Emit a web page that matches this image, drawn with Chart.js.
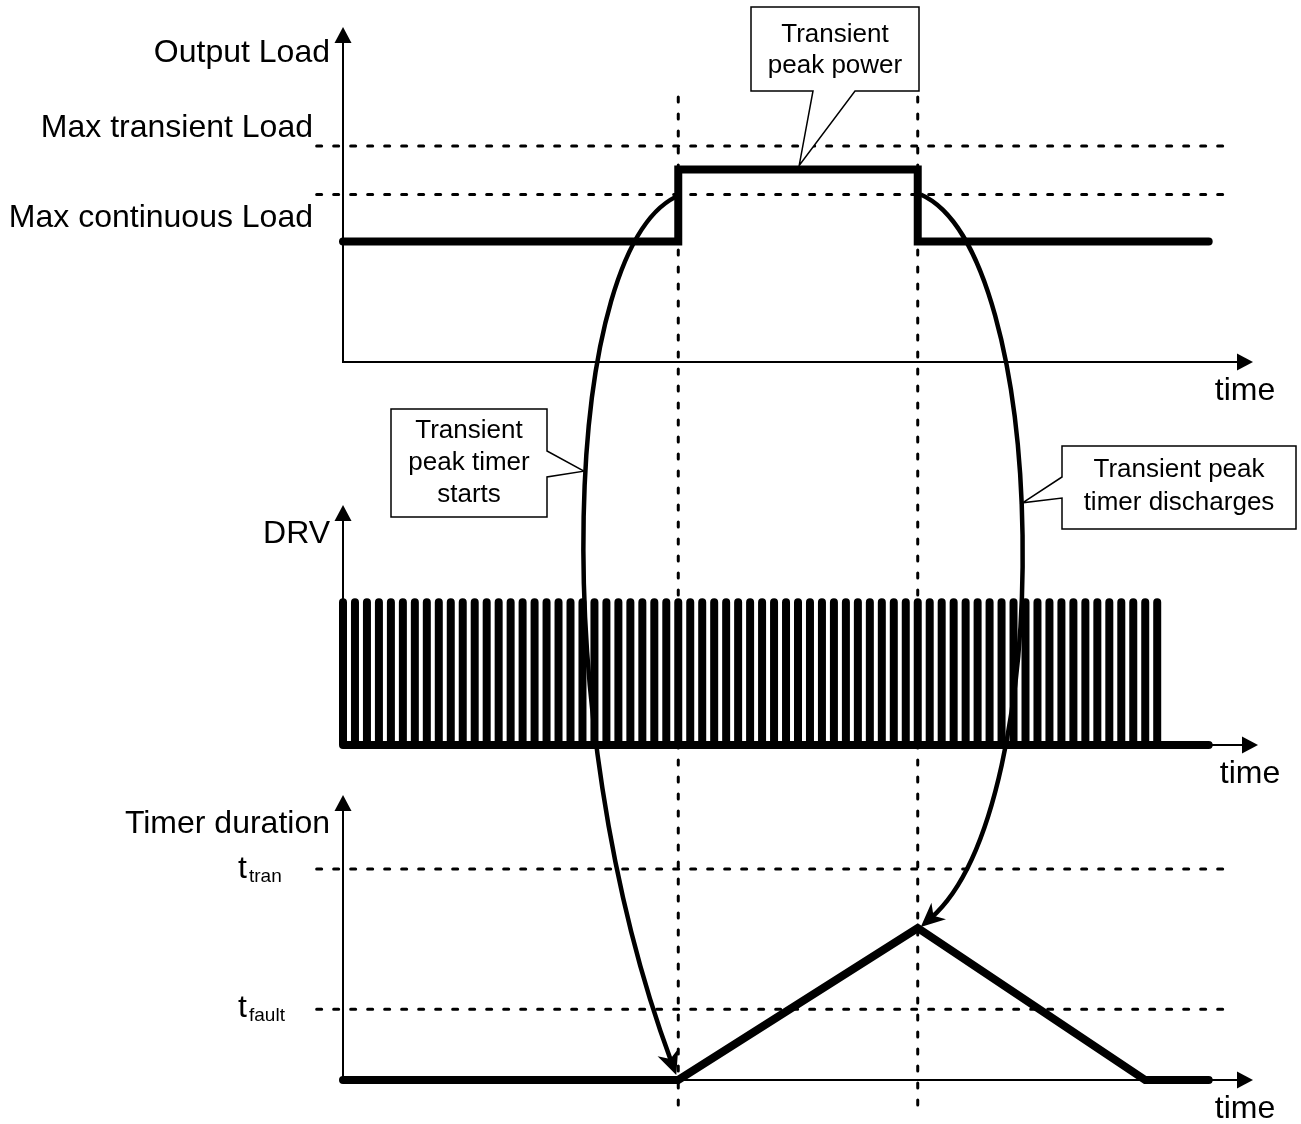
<!DOCTYPE html>
<html>
<head>
<meta charset="utf-8">
<title>Transient peak power timer</title>
<script src="https://cdn.jsdelivr.net/npm/chart.js@4.4.1/dist/chart.umd.min.js"></script>
<style>
  html, body { margin: 0; padding: 0; background: #fff; }
  #wrap { position: relative; width: 1301px; height: 1124px; }
  #wrap canvas { position: absolute; left: 0; top: 0; }
</style>
</head>
<body>
<div id="wrap">
  <canvas id="loadChart" width="1301" height="1124"></canvas>
  <canvas id="drvChart" width="1301" height="1124"></canvas>
  <canvas id="timerChart" width="1301" height="1124"></canvas>
</div>
<script>
// time runs in DRV switching periods
const timeMax = 76
const transitionTimes = [28, 48]

// output load, % of max continuous load
const loadTimes = [0, 28, 28, 48, 48, 72.3]
const loadValues = [72, 72, 115, 115, 72, 72]
const maxContinuousLoad = 100
const maxTransientLoad = 129
const loadMax = 200

// DRV gate pulses (rising edge times)
const drvPulseTimes = [0, 1, 2, 3, 4, 5, 6, 7, 8, 9, 10, 11, 12, 13, 14, 15, 16, 17, 18, 19,
  20, 21, 22, 23, 24, 25, 26, 27, 28, 29, 30, 31, 32, 33, 34, 35, 36, 37, 38, 39,
  40, 41, 42, 43, 44, 45, 46, 47, 48, 49, 50, 51, 52, 53, 54, 55, 56, 57, 58, 59,
  60, 61, 62, 63, 64, 65, 66, 67, 68]
const drvHigh = 1
const drvEnd = 72.3
const drvMax = 1.68

// transient peak timer, % of t_tran
const timerTimes = [0, 28, 48, 67, 72.3]
const timerValues = [0, 0, 72, 0, 0]
const tTran = 100
const tFault = 33.5
const timerMax = 135

// reference lines reach a little left of the axis
const levelLineTimes = [-2.2, 73.5]

const ink = '#000'
const fontFamily = '"Liberation Sans", Arial, sans-serif'
const labelFont = '32px ' + fontFamily
const subFont = '19px ' + fontFamily
const boxFont = '26px ' + fontFamily
const W = 1301, H = 1124
const plotLeft = 343, plotRight = 1253

function toPoints(xs, ys) {
    return xs.map((x, i) => ({x: x, y: ys[i]}))
}

function levelDataset(value) {
    return {
        data: levelLineTimes.map(t => ({x: t, y: value})),
        borderColor: ink, borderWidth: 3, borderDash: [5, 12],
        borderCapStyle: 'round', clip: false
    }
}

function arrowHead(ctx, x, y, dx, dy, len, hw) {
    ctx.beginPath()
    ctx.moveTo(x, y)
    ctx.lineTo(x - dx * len - dy * hw, y - dy * len + dx * hw)
    ctx.lineTo(x - dx * len + dy * hw, y - dy * len - dx * hw)
    ctx.closePath()
    ctx.fill()
}

function stealthHead(ctx, x, y, dx, dy, len, hw, notch) {
    ctx.beginPath()
    ctx.moveTo(x, y)
    ctx.lineTo(x - dx * len - dy * hw, y - dy * len + dx * hw)
    ctx.lineTo(x - dx * (len - notch), y - dy * (len - notch))
    ctx.lineTo(x - dx * len + dy * hw, y - dy * len - dx * hw)
    ctx.closePath()
    ctx.fill()
}

function diagramOptions(yMax, top, bottom) {
    return {
        responsive: false,
        animation: false,
        events: [],
        layout: {padding: {left: plotLeft, right: W - plotRight, top: top, bottom: H - bottom}},
        plugins: {legend: {display: false}, tooltip: {enabled: false}},
        elements: {point: {radius: 0}, line: {tension: 0}},
        scales: {
            x: {type: 'linear', min: 0, max: timeMax, display: false},
            y: {type: 'linear', min: 0, max: yMax, display: false}
        }
    }
}

// axes with arrow tips, titles and level labels
function axesPlugin(cfg) {
    return {
        id: 'diagramAxes',
        beforeDatasetsDraw(chart) {
            const {ctx, chartArea: a} = chart
            const y = chart.scales.y
            const xTip = a.right + cfg.xTipExtra
            ctx.save()
            ctx.fillStyle = ink
            ctx.strokeStyle = ink
            ctx.lineWidth = 2
            ctx.beginPath()
            ctx.moveTo(a.left, a.top + 10)
            ctx.lineTo(a.left, a.bottom)
            ctx.lineTo(xTip - 10, a.bottom)
            ctx.stroke()
            arrowHead(ctx, a.left, a.top, 0, -1, 16, 8.5)
            arrowHead(ctx, xTip, a.bottom, 1, 0, 16, 8.5)

            ctx.font = labelFont
            ctx.textBaseline = 'alphabetic'
            ctx.textAlign = 'right'
            ctx.fillText(cfg.title, a.left - 13, a.top + cfg.titleDy)
            ctx.textAlign = 'center'
            ctx.fillText('time', xTip - 8, a.bottom + 38)

            cfg.levels.forEach(l => {
                const py = y.getPixelForValue(l.value)
                if (l.sub) {
                    ctx.textAlign = 'left'
                    ctx.font = labelFont
                    ctx.fillText('t', 238, py + l.dy)
                    ctx.font = subFont
                    ctx.fillText(l.sub, 249, py + l.dy + 4)
                } else {
                    ctx.textAlign = 'right'
                    ctx.font = labelFont
                    ctx.fillText(l.text, a.left - 30, py + l.dy)
                }
            })
            ctx.restore()
        }
    }
}

const loadChart = new Chart(document.getElementById('loadChart'), {
    type: 'line',
    data: {datasets: [
        {data: toPoints(loadTimes, loadValues), borderColor: ink, borderWidth: 8,
         borderCapStyle: 'round', borderJoinStyle: 'miter', clip: false},
        levelDataset(maxTransientLoad),
        levelDataset(maxContinuousLoad)
    ]},
    options: diagramOptions(loadMax, 27, 362),
    plugins: [axesPlugin({
        title: 'Output Load', titleDy: 35, xTipExtra: 0,
        levels: [
            {text: 'Max transient Load', value: maxTransientLoad, dy: -9},
            {text: 'Max continuous Load', value: maxContinuousLoad, dy: 32}
        ]
    })]
})

const drvPoints = []
drvPulseTimes.forEach(t => {
    drvPoints.push({x: t, y: 0}, {x: t, y: drvHigh}, {x: t, y: 0})
})
drvPoints.push({x: drvEnd, y: 0})

const drvChart = new Chart(document.getElementById('drvChart'), {
    type: 'line',
    data: {datasets: [
        {data: drvPoints, borderColor: ink, borderWidth: 8,
         borderCapStyle: 'round', borderJoinStyle: 'round', clip: false}
    ]},
    options: diagramOptions(drvMax, 505, 745),
    plugins: [axesPlugin({title: 'DRV', titleDy: 38, xTipExtra: 5, levels: []})]
})

function bez(p, t) {
    const u = 1 - t
    return {
        x: u * u * u * p[0].x + 3 * u * u * t * p[1].x + 3 * u * t * t * p[2].x + t * t * t * p[3].x,
        y: u * u * u * p[0].y + 3 * u * u * t * p[1].y + 3 * u * t * t * p[2].y + t * t * t * p[3].y
    }
}

function pointAtY(p, targetY) {
    let best = p[0], bestD = 1e9
    for (let i = 0; i <= 400; i++) {
        const q = bez(p, i / 400)
        const d = Math.abs(q.y - targetY)
        if (d < bestD) { bestD = d; best = q }
    }
    return best
}

function drawCurveArrow(ctx, p) {
    let dx = p[3].x - p[2].x, dy = p[3].y - p[2].y
    const n = Math.hypot(dx, dy)
    dx /= n; dy /= n
    ctx.beginPath()
    ctx.moveTo(p[0].x, p[0].y)
    ctx.bezierCurveTo(p[1].x, p[1].y, p[2].x, p[2].y, p[3].x - dx * 14, p[3].y - dy * 14)
    ctx.lineWidth = 4.5
    ctx.stroke()
    stealthHead(ctx, p[3].x, p[3].y, dx, dy, 24, 11, 7)
}

function callout(ctx, pts, lines, cx, baselines) {
    ctx.beginPath()
    ctx.moveTo(pts[0].x, pts[0].y)
    pts.slice(1).forEach(q => ctx.lineTo(q.x, q.y))
    ctx.closePath()
    ctx.fillStyle = '#fff'
    ctx.fill()
    ctx.lineWidth = 1.5
    ctx.strokeStyle = ink
    ctx.stroke()
    ctx.fillStyle = ink
    ctx.font = boxFont
    ctx.textAlign = 'center'
    ctx.textBaseline = 'alphabetic'
    lines.forEach((s, i) => ctx.fillText(s, cx, baselines[i]))
}

// cross-panel markers, curved arrows and callouts
const overlayPlugin = {
    id: 'overlay',
    afterDraw(chart) {
        const ctx = chart.ctx
        const x = chart.scales.x
        const timerY = chart.scales.y
        const loadY = loadChart.scales.y
        ctx.save()
        ctx.strokeStyle = ink
        ctx.fillStyle = ink

        ctx.lineWidth = 3
        ctx.lineCap = 'round'
        ctx.setLineDash([5, 12])
        transitionTimes.forEach(t => {
            const px = x.getPixelForValue(t)
            ctx.beginPath()
            ctx.moveTo(px, 97)
            ctx.lineTo(px, 1107)
            ctx.stroke()
        })
        ctx.setLineDash([])
        ctx.lineCap = 'butt'

        const upX = x.getPixelForValue(transitionTimes[0])
        const downX = x.getPixelForValue(transitionTimes[1])
        const contY = loadY.getPixelForValue(maxContinuousLoad)
        const peakY = timerY.getPixelForValue(Math.max(...timerValues))

        const l0 = {x: upX + 3, y: contY}
        const l3 = {x: upX - 2, y: timerY.getPixelForValue(0) - 5}
        const leftCurve = [l0, {x: l0.x - 120, y: l0.y + 45}, {x: l3.x - 132, y: l3.y - 355}, l3]
        const r0 = {x: downX + 3, y: contY}
        const r3 = {x: downX + 3, y: peakY - 1}
        const rightCurve = [r0, {x: r0.x + 130, y: r0.y + 57}, {x: r3.x + 138, y: r3.y - 122}, r3]
        drawCurveArrow(ctx, leftCurve)
        drawCurveArrow(ctx, rightCurve)

        const powerTip = {x: x.getPixelForValue(38.1), y: loadY.getPixelForValue(loadValues[2]) - 4}
        callout(ctx, [
            {x: 751, y: 7}, {x: 919, y: 7}, {x: 919, y: 91}, {x: 855, y: 91},
            powerTip, {x: 813, y: 91}, {x: 751, y: 91}
        ], ['Transient', 'peak power'], 835, [42, 73])

        const startTip = pointAtY(leftCurve, 472)
        callout(ctx, [
            {x: 391, y: 409}, {x: 547, y: 409}, {x: 547, y: 451}, {x: startTip.x - 2, y: startTip.y},
            {x: 547, y: 477}, {x: 547, y: 517}, {x: 391, y: 517}
        ], ['Transient', 'peak timer', 'starts'], 469, [438, 470, 502])

        const dischargeTip = pointAtY(rightCurve, 503)
        callout(ctx, [
            {x: 1062, y: 446}, {x: 1296, y: 446}, {x: 1296, y: 529}, {x: 1062, y: 529},
            {x: 1062, y: 498}, {x: dischargeTip.x + 2, y: dischargeTip.y}, {x: 1062, y: 477}
        ], ['Transient peak', 'timer discharges'], 1179, [477, 510])
        ctx.restore()
    }
}

const timerChart = new Chart(document.getElementById('timerChart'), {
    type: 'line',
    data: {datasets: [
        {data: toPoints(timerTimes, timerValues), borderColor: ink, borderWidth: 8,
         borderCapStyle: 'round', borderJoinStyle: 'miter', clip: false},
        levelDataset(tTran),
        levelDataset(tFault)
    ]},
    options: diagramOptions(timerMax, 795, 1080),
    plugins: [axesPlugin({
        title: 'Timer duration', titleDy: 38, xTipExtra: 0,
        levels: [
            {sub: 'tran', value: tTran, dy: 9},
            {sub: 'fault', value: tFault, dy: 8}
        ]
    }), overlayPlugin]
})
</script>
</body>
</html>
